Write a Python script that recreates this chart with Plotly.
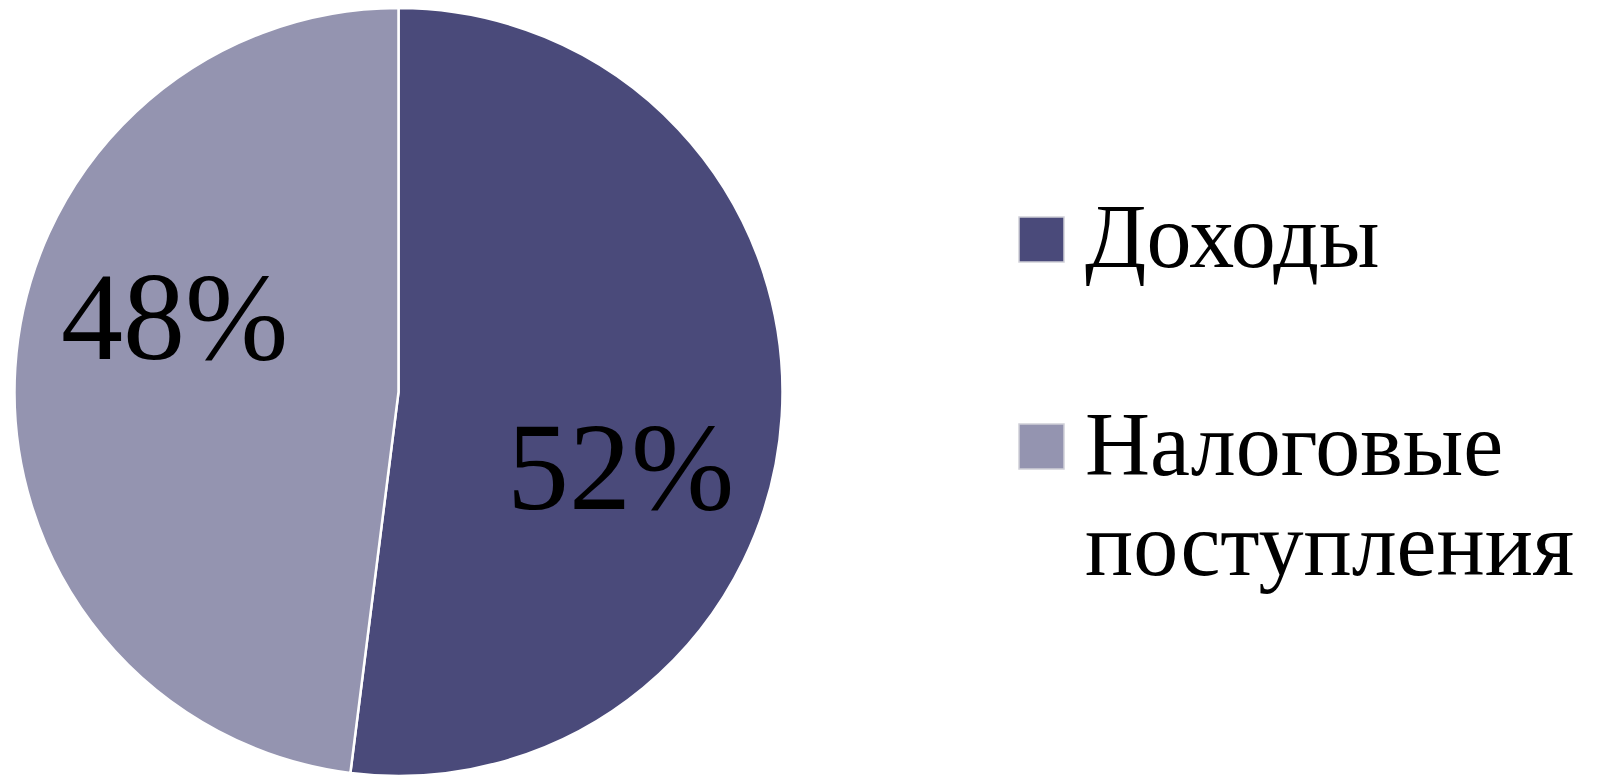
import plotly.graph_objects as go

labels = ["Доходы", "Налоговые поступления"]
values = [52, 48]
colors = ["#4a4a7a", "#9494b0"]

W, H = 1614, 778
FONT = "Liberation Serif"

def px(x):
    return x / W

def py(y):
    return 1 - y / H

fig = go.Figure()
fig.add_trace(go.Pie(
    labels=labels,
    values=values,
    sort=False,
    direction="clockwise",
    rotation=0,
    marker=dict(colors=colors, line=dict(color="#ffffff", width=2.5)),
    textinfo="none",
    hoverinfo="label+percent",
    showlegend=False,
    domain=dict(x=[px(12), px(785)], y=[py(776), py(8)]),
))

total = sum(values)
pct_text = [f"{round(v / total * 100)}%" for v in values]
pct_pos = [(620.5, 467), (174.5, 317)]

annotations = []
for t, (x, y) in zip(pct_text, pct_pos):
    annotations.append(dict(
        x=px(x), y=py(y), xref="paper", yref="paper",
        text=t, showarrow=False, xanchor="center", yanchor="middle",
        font=dict(family=FONT, size=124, color="#000000"),
    ))

# custom legend
sq_tops = [217, 424]
sq_size = 45
sq_left = 1019
text_left = 1083
line_centers = [[236.5], [444.5, 544]]
shapes = []
for lab, col, top, centers in zip(labels, colors, sq_tops, line_centers):
    shapes.append(dict(
        type="rect", xref="paper", yref="paper",
        x0=px(sq_left), x1=px(sq_left + sq_size),
        y0=py(top + sq_size), y1=py(top),
        fillcolor=col, line=dict(color="#d0d0d8", width=1.5),
    ))
    words = lab.split(" ")
    for w, cy in zip(words, centers):
        annotations.append(dict(
            x=px(text_left), y=py(cy), xref="paper", yref="paper",
            text=w, showarrow=False, xanchor="left", yanchor="middle",
            font=dict(family=FONT, size=90, color="#000000"),
        ))

fig.update_layout(
    width=W, height=H,
    margin=dict(l=0, r=0, t=0, b=0),
    paper_bgcolor="#ffffff",
    plot_bgcolor="#ffffff",
    annotations=annotations,
    shapes=shapes,
)

fig.write_html(
    "out.html",
    config={"displayModeBar": False},
    post_script="document.body.style.margin='0';document.body.style.overflow='hidden';",
)
